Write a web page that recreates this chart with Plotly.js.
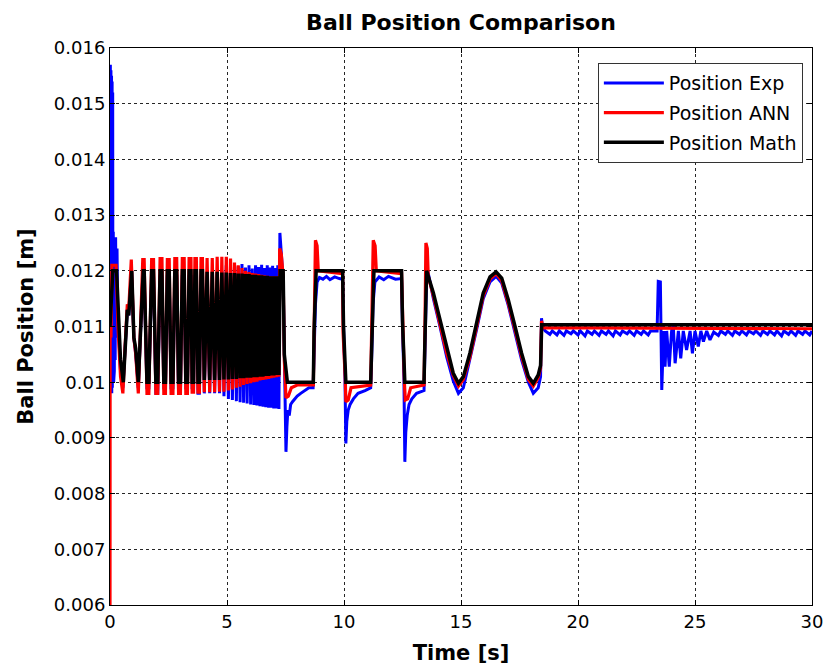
<!DOCTYPE html>
<html>
<head>
<meta charset="utf-8">
<script src="https://cdn.plot.ly/plotly-3.0.1.min.js"></script>
<style>html,body{margin:0;padding:0;background:#fff;}#chart{width:826px;height:665px;}</style>
</head>
<body>
<div id="chart"></div>
<script>
// ---------- data ----------
const xTickVals = [0, 5, 10, 15, 20, 25, 30];
const xTickText = ['0', '5', '10', '15', '20', '25', '30'];
const yTickVals = [0.006, 0.007, 0.008, 0.009, 0.010, 0.011, 0.012, 0.013, 0.014, 0.015, 0.016];
const yTickText = ['0.006', '0.007', '0.008', '0.009', '0.01', '0.011', '0.012', '0.013', '0.014', '0.015', '0.016'];

// times of the rising-frequency test section (early part: plateau start/end of each trough / peak)
const chirpT = [
  1.46,
  1.58, 1.66, 1.78, 1.86, 1.96, 2.04, 2.14, 2.22, 2.30, 2.37, 2.45, 2.53, 2.61, 2.69, 2.77, 2.85,
  2.93, 3.01, 3.09, 3.17, 3.24, 3.31, 3.38, 3.46, 3.51, 3.57, 3.63, 3.69, 3.76, 3.82, 3.89, 3.95,
  4.03, 4.15, 4.26, 4.37, 4.47, 4.58, 4.68, 4.78, 4.87, 4.97, 5.06, 5.15, 5.23, 5.32, 5.40, 5.48,
  5.56, 5.64, 5.71, 5.79, 5.86, 5.94, 6.01, 6.08, 6.15, 6.22, 6.28, 6.35, 6.41, 6.48, 6.54, 6.60,
  6.66, 6.72, 6.78, 6.84, 6.89, 6.95, 7.00, 7.06, 7.11, 7.17, 7.22
];

// ----- Position Exp (blue) -----
const expStart = [
  [0, 0.0110], [0.015, 0.0157], [0.025, 0.0098], [0.04, 0.0156], [0.05, 0.0099], [0.065, 0.0155],
  [0.075, 0.0098], [0.09, 0.0154], [0.10, 0.0099], [0.115, 0.0152], [0.125, 0.0100], [0.14, 0.0127],
  [0.155, 0.0100], [0.17, 0.0127], [0.185, 0.0102], [0.20, 0.0126], [0.22, 0.0104], [0.24, 0.0126],
  [0.27, 0.0108], [0.30, 0.0124], [0.33, 0.0112], [0.38, 0.0108], [0.45, 0.0102], [0.55, 0.0099],
  [0.64, 0.0105], [0.74, 0.0113], [0.80, 0.0112], [0.92, 0.0120], [1.02, 0.0108], [1.10, 0.0105],
  [1.21, 0.0099], [1.30, 0.0110], [1.41, 0.0120]
];
const expChirpY = [
  0.0119,
  0.0099, 0.0099, 0.0119, 0.0119, 0.0098, 0.0098, 0.0119, 0.0119, 0.0099, 0.0099, 0.0119, 0.0119, 0.0099, 0.0099, 0.0119, 0.0119,
  0.0098, 0.0098, 0.0119, 0.0119, 0.0099, 0.0099, 0.0119, 0.0119, 0.0099, 0.0099, 0.0119, 0.0119, 0.0098, 0.0098, 0.0119, 0.0119,
  0.0098, 0.0119, 0.0098, 0.0119, 0.0098, 0.01195, 0.0098, 0.0120, 0.00975, 0.0121, 0.0097, 0.01205, 0.00968, 0.0121, 0.00966, 0.01208,
  0.00964, 0.01212, 0.00963, 0.01206, 0.00962, 0.0121, 0.0096, 0.01204, 0.00959, 0.0121, 0.00958, 0.01207, 0.00957, 0.01211, 0.00956, 0.01205,
  0.00955, 0.0121, 0.00954, 0.01206, 0.00954, 0.01209, 0.00953, 0.01205, 0.00953, 0.0121, 0.00952
];
const expRest = [
  [7.26, 0.01268], [7.30, 0.0125], [7.34, 0.0122], [7.40, 0.0118], [7.46, 0.0104], [7.52, 0.00875],
  [7.56, 0.0092], [7.60, 0.0095], [7.66, 0.0094], [7.72, 0.0096], [7.80, 0.00965], [7.90, 0.0097],
  [8.00, 0.00975], [8.15, 0.0098], [8.30, 0.00985], [8.50, 0.0099], [8.68, 0.0099], [8.72, 0.0104],
  [8.78, 0.0114], [8.85, 0.0118], [8.95, 0.01188], [9.10, 0.01185], [9.25, 0.0119], [9.40, 0.01184],
  [9.60, 0.01189], [9.80, 0.01186], [9.94, 0.01185], [9.98, 0.0110], [10.04, 0.0101], [10.08, 0.0089],
  [10.12, 0.0093], [10.18, 0.0095], [10.26, 0.0096], [10.40, 0.0097], [10.60, 0.0098], [10.90, 0.00985],
  [11.14, 0.0099], [11.18, 0.0104], [11.24, 0.0114], [11.32, 0.0118], [11.50, 0.01189], [11.70, 0.01184],
  [11.90, 0.0119], [12.20, 0.01185], [12.46, 0.01186], [12.50, 0.0110], [12.56, 0.0101], [12.60, 0.00857],
  [12.64, 0.0091], [12.70, 0.0094], [12.78, 0.0096], [12.90, 0.0097], [13.10, 0.0098], [13.42, 0.00985],
  [13.46, 0.0105], [13.53, 0.0119], [13.58, 0.0120],
  [13.82, 0.0115], [14.10, 0.0110], [14.39, 0.01045], [14.67, 0.01002], [14.89, 0.0098], [15.10, 0.0099],
  [15.38, 0.0104], [15.67, 0.01095], [15.95, 0.0115], [16.24, 0.0118], [16.50, 0.0119], [16.74, 0.01178],
  [17.02, 0.01138], [17.31, 0.0109], [17.59, 0.0104], [17.88, 0.0100], [18.09, 0.0098], [18.30, 0.0099],
  [18.40, 0.0101], [18.44, 0.01115], [18.48, 0.0110], [18.60, 0.01092],
  [18.8, 0.01086], [18.9, 0.01092], [19.1, 0.01085], [19.2, 0.01092], [19.4, 0.01084], [19.5, 0.01092],
  [19.7, 0.01087], [19.8, 0.01092], [20.0, 0.01085], [20.1, 0.01092], [20.3, 0.01083], [20.4, 0.01092],
  [20.6, 0.01086], [20.7, 0.01092], [20.9, 0.01084], [21.0, 0.01092], [21.2, 0.01086], [21.3, 0.01092],
  [21.5, 0.01083], [21.6, 0.01092], [21.8, 0.01085], [21.9, 0.01092], [22.1, 0.01087], [22.2, 0.01092],
  [22.4, 0.01084], [22.5, 0.01092], [22.7, 0.01086], [22.8, 0.01092], [23.0, 0.01085], [23.1, 0.01092],
  [23.38, 0.01092], [23.43, 0.01181], [23.52, 0.0118], [23.58, 0.00986], [23.66, 0.01092], [23.72, 0.01028],
  [23.79, 0.01092], [23.90, 0.01028], [24.00, 0.01092], [24.07, 0.01103], [24.15, 0.01034], [24.29, 0.01092],
  [24.39, 0.01043], [24.50, 0.01092], [24.64, 0.01058], [24.79, 0.01092], [24.89, 0.01052], [25.00, 0.01092],
  [25.14, 0.01064], [25.25, 0.01092], [25.36, 0.01073], [25.50, 0.01092], [25.64, 0.01076], [25.80, 0.0109],
  [26.0, 0.01084], [26.1, 0.01092], [26.3, 0.01086], [26.4, 0.01092], [26.6, 0.01084], [26.7, 0.01092],
  [26.9, 0.01086], [27.0, 0.01092], [27.2, 0.01085], [27.3, 0.01092], [27.5, 0.01087], [27.6, 0.01092],
  [27.8, 0.01084], [27.9, 0.01092], [28.1, 0.01086], [28.2, 0.01092], [28.4, 0.01085], [28.5, 0.01092],
  [28.7, 0.01083], [28.8, 0.01092], [29.0, 0.01086], [29.1, 0.01092], [29.3, 0.01084], [29.4, 0.01092],
  [29.6, 0.01086], [29.7, 0.01092], [29.9, 0.01085], [30, 0.01092]
];

// ----- Position ANN (red) -----
const annStart = [
  [0, 0.0060], [0.005, 0.0110], [0.04, 0.0108], [0.08, 0.0121], [0.26, 0.0121], [0.34, 0.0110],
  [0.45, 0.0101], [0.55, 0.0098], [0.64, 0.0106], [0.74, 0.0114], [0.80, 0.0113], [0.91, 0.0122],
  [1.02, 0.0108], [1.10, 0.0105], [1.21, 0.0098], [1.30, 0.0110], [1.40, 0.0122]
];
const annChirpY = [
  0.0122,
  0.0098, 0.0098, 0.0122, 0.0122, 0.0098, 0.0098, 0.01222, 0.01222, 0.0098, 0.0098, 0.0122, 0.0122, 0.0098, 0.0098, 0.01222, 0.01222,
  0.0098, 0.0098, 0.01222, 0.01222, 0.0098, 0.0098, 0.01222, 0.01222, 0.00982, 0.00982, 0.01222, 0.01222, 0.00982, 0.00982, 0.01222, 0.01222,
  0.00982, 0.01223, 0.00982, 0.01223, 0.00982, 0.01225, 0.00983, 0.01225, 0.00983, 0.01225, 0.00985, 0.01222, 0.00987, 0.01215, 0.0099, 0.0121,
  0.00992, 0.01205, 0.00995, 0.0120, 0.00997, 0.01198, 0.00998, 0.01196, 0.0100, 0.01195, 0.01001, 0.01194, 0.01003, 0.01193, 0.01004, 0.01192,
  0.01005, 0.01191, 0.01006, 0.0119, 0.01007, 0.0119, 0.01008, 0.0119, 0.01009, 0.0119, 0.0101
];
const annRest = [
  [7.25, 0.0124], [7.32, 0.0123], [7.40, 0.0119], [7.45, 0.0104], [7.52, 0.00972], [7.62, 0.00975],
  [7.75, 0.0099], [8.00, 0.00995], [8.69, 0.00995], [8.73, 0.0110], [8.78, 0.01255], [8.85, 0.01245],
  [8.90, 0.0120], [9.94, 0.01195], [9.96, 0.0109], [10.05, 0.0101], [10.08, 0.00965], [10.18, 0.00968],
  [10.30, 0.0099], [11.14, 0.00995], [11.18, 0.0110], [11.25, 0.01255], [11.33, 0.01245], [11.38, 0.0120],
  [12.46, 0.01195], [12.50, 0.0111], [12.58, 0.0100], [12.62, 0.00968], [12.72, 0.0097], [12.85, 0.0099],
  [13.42, 0.00995], [13.46, 0.0110], [13.50, 0.0125], [13.56, 0.0124], [13.60, 0.0119],
  [13.82, 0.01155], [14.10, 0.01105], [14.39, 0.01052], [14.67, 0.01012], [14.89, 0.00993], [15.10, 0.01005],
  [15.38, 0.01045], [15.67, 0.0110], [15.95, 0.01155], [16.24, 0.01185], [16.50, 0.01195], [16.74, 0.01182],
  [17.02, 0.01142], [17.31, 0.01094], [17.59, 0.01046], [17.88, 0.01005], [18.09, 0.00993], [18.30, 0.01008],
  [18.40, 0.01025], [18.44, 0.0111], [18.50, 0.01098], [30, 0.01096]
];

// ----- Position Math (black) -----
const mathStart = [
  [0, 0.0110], [0.05, 0.0115], [0.12, 0.0120], [0.28, 0.0120], [0.36, 0.0112], [0.45, 0.0104],
  [0.57, 0.0100], [0.66, 0.0106], [0.74, 0.0113], [0.80, 0.0112], [0.93, 0.0120], [1.02, 0.0108],
  [1.10, 0.0106], [1.21, 0.0100], [1.30, 0.0110], [1.42, 0.0120]
];
const mathChirpY = [
  0.0120,
  0.0100, 0.0100, 0.0120, 0.0120, 0.0100, 0.0100, 0.0120, 0.0120, 0.0100, 0.0100, 0.0120, 0.0120, 0.0100, 0.0100, 0.0120, 0.0120,
  0.0100, 0.0100, 0.0120, 0.0120, 0.0100, 0.0100, 0.0120, 0.0120, 0.0100, 0.0100, 0.0120, 0.0120, 0.0100, 0.0100, 0.0120, 0.0120,
  0.01004, 0.01198, 0.01004, 0.01198, 0.01004, 0.01198, 0.01004, 0.01197, 0.01005, 0.01197, 0.01005, 0.01196, 0.01006, 0.01196, 0.01006, 0.01195,
  0.01007, 0.01195, 0.01007, 0.01194, 0.01008, 0.01194, 0.01008, 0.01193, 0.01009, 0.01193, 0.01009, 0.01192, 0.0101, 0.01192, 0.0101, 0.01191,
  0.01011, 0.01191, 0.01011, 0.0119, 0.01012, 0.0119, 0.01012, 0.0119, 0.01013, 0.0119, 0.01013
];
const mathRest = [
  [7.27, 0.0120], [7.40, 0.0120], [7.45, 0.0105], [7.58, 0.0100], [8.69, 0.0100], [8.72, 0.0109],
  [8.81, 0.0120], [9.94, 0.0120], [9.98, 0.0110], [10.08, 0.0100], [11.14, 0.0100], [11.17, 0.01055],
  [11.28, 0.0120], [12.46, 0.0120], [12.50, 0.0111], [12.60, 0.0100], [13.42, 0.0100], [13.45, 0.0106],
  [13.53, 0.0120],
  [13.82, 0.0116], [14.10, 0.01112], [14.39, 0.01058], [14.67, 0.01016], [14.89, 0.00998], [15.10, 0.0101],
  [15.38, 0.01052], [15.67, 0.01106], [15.95, 0.0116], [16.24, 0.01189], [16.50, 0.01198], [16.74, 0.01187],
  [17.02, 0.01148], [17.31, 0.0110], [17.59, 0.01052], [17.88, 0.0101], [18.09, 0.00998], [18.30, 0.01013],
  [18.40, 0.0103], [18.45, 0.01103], [30, 0.01103]
];

// ---------- assemble series ----------
function build(start, chirpY, rest) {
  const x = [], y = [];
  start.forEach(p => { x.push(p[0]); y.push(p[1]); });
  chirpT.forEach((t, i) => { x.push(t); y.push(chirpY[i]); });
  rest.forEach(p => { x.push(p[0]); y.push(p[1]); });
  return { x, y };
}
const expS = build(expStart, expChirpY, expRest);
const annS = build(annStart, annChirpY, annRest);
const mathS = build(mathStart, mathChirpY, mathRest);

const FONT = 'DejaVu Sans, Arial, sans-serif';

const traces = [
  { x: expS.x, y: expS.y, type: 'scatter', mode: 'lines', name: 'Position Exp', legendgroup: 'a',
    line: { color: '#0000FF', width: 3 } },
  { x: annS.x, y: annS.y, type: 'scatter', mode: 'lines', name: 'Position ANN', legendgroup: 'b',
    line: { color: '#FF0000', width: 3.2 } },
  { x: mathS.x, y: mathS.y, type: 'scatter', mode: 'lines', name: 'Position Math', legendgroup: 'c',
    line: { color: '#000000', width: 3.5 } }
];

const axisCommon = {
  showline: true, linecolor: '#000', linewidth: 1, mirror: 'ticks',
  ticks: 'inside', ticklen: 5, tickcolor: '#000', tickwidth: 1,
  showgrid: true, gridcolor: 'rgba(0,0,0,0.85)', gridwidth: 1, griddash: '3px,3px',
  zeroline: false, tickfont: { family: FONT, size: 18, color: '#000' }
};

const layout = {
  width: 826, height: 665,
  margin: { l: 110, r: 14, t: 48, b: 60 },
  paper_bgcolor: '#fff', plot_bgcolor: '#fff',
  font: { family: FONT, color: '#000' },
  title: { text: '<b>Ball Position Comparison</b>', font: { family: FONT, size: 22, color: '#000' },
           x: 0.5, xref: 'paper', y: 0.967, yref: 'container', yanchor: 'middle' },
  xaxis: Object.assign({}, axisCommon, {
    range: [0, 30], tickmode: 'array', tickvals: xTickVals, ticktext: xTickText,
    title: { text: '<b>Time [s]</b>', font: { family: FONT, size: 21, color: '#000' }, standoff: 16 }
  }),
  yaxis: Object.assign({}, axisCommon, {
    range: [0.006, 0.016], tickmode: 'array', tickvals: yTickVals, ticktext: yTickText,
    title: { text: '<b>Ball Position [m]</b>', font: { family: FONT, size: 21, color: '#000' }, standoff: 14 }
  }),
  showlegend: true,
  legend: {
    x: 0.987, xanchor: 'right', y: 0.973, yanchor: 'top',
    bgcolor: '#fff', bordercolor: '#333', borderwidth: 1,
    font: { family: FONT, size: 19, color: '#000' },
    tracegroupgap: 2, itemwidth: 60
  }
};

Plotly.newPlot('chart', traces, layout, { displayModeBar: false, staticPlot: true });
</script>
</body>
</html>
